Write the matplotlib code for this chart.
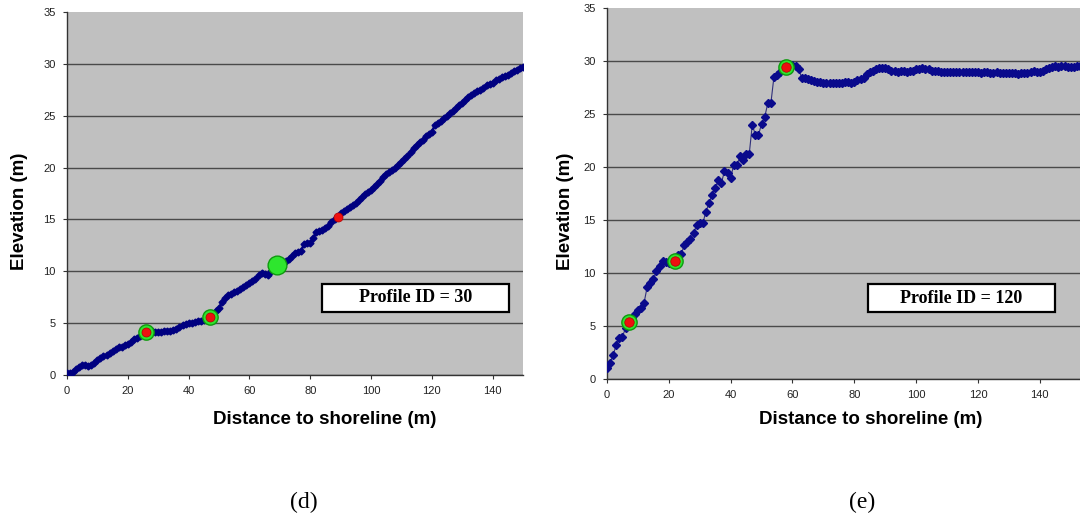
import matplotlib
matplotlib.use('Agg')
import matplotlib.pyplot as plt
import matplotlib.patches as mpatches
import numpy as np

# profile (d), one reading per metre, x = 0..150
dist_d = list(range(0, 151))
elev_d = [
    0.2, 0.2, 0.3, 0.6, 0.8, 1.0, 1.0, 0.9, 1.0, 1.2,
    1.4, 1.6, 1.8, 1.9, 2.1, 2.3, 2.5, 2.7, 2.7, 2.9,
    3.0, 3.2, 3.5, 3.6, 3.8, 4.0, 4.15, 4.2, 4.2, 4.1,
    4.1, 4.1, 4.2, 4.2, 4.2, 4.3, 4.4, 4.6, 4.8, 4.9,
    5.0, 5.0, 5.1, 5.2, 5.2, 5.3, 5.5, 5.6, 5.9, 6.2,
    6.5, 7.0, 7.4, 7.7, 7.8, 8.0, 8.1, 8.3, 8.5, 8.7,
    8.9, 9.1, 9.3, 9.6, 9.8, 9.7, 9.6, 10.0, 10.3, 10.6,
    10.9, 10.9, 11.0, 11.2, 11.5, 11.8, 11.9, 12.0, 12.6, 12.7,
    12.7, 13.2, 13.8, 13.9, 14.0, 14.2, 14.4, 14.8, 15.0, 15.2,
    15.6, 15.8, 16.0, 16.2, 16.4, 16.6, 16.9, 17.2, 17.5, 17.6,
    17.8, 18.1, 18.4, 18.7, 19.1, 19.4, 19.6, 19.8, 20.0, 20.2,
    20.5, 20.8, 21.1, 21.5, 21.9, 22.2, 22.5, 22.7, 23.0, 23.2,
    23.4, 24.1, 24.3, 24.5, 24.8, 25.0, 25.3, 25.5, 25.7, 26.0,
    26.2, 26.5, 26.8, 27.0, 27.2, 27.4, 27.5, 27.7, 28.0, 28.1,
    28.2, 28.4, 28.5, 28.7, 28.8, 28.9, 29.1, 29.3, 29.4, 29.6,
    29.7,
]
# highlighted points on (d)
ring_d_x = [26, 47, 69]
ring_d_y = [4.15, 5.6, 10.6]
ring_d_size = [11, 11, 13.5]
dot_d_x = [26, 47, 89]
dot_d_y = [4.15, 5.6, 15.2]

# profile (e), one reading per metre, x = 0..153
dist_e = list(range(0, 154))
elev_e = [
    1.0, 1.5, 2.3, 3.2, 3.9, 4.0, 4.8, 5.4, 5.75, 6.1,
    6.5, 6.7, 7.2, 8.7, 9.1, 9.4, 10.2, 10.7, 11.1, 11.0,
    10.9, 11.1, 11.2, 11.7, 11.8, 12.6, 12.9, 13.2, 13.8, 14.5,
    14.7, 14.7, 15.8, 16.6, 17.4, 18.0, 18.8, 18.5, 19.6, 19.4,
    19.0, 20.2, 20.2, 21.0, 20.7, 21.2, 21.2, 24.0, 23.0, 23.0,
    24.1, 24.7, 26.0, 26.0, 28.5, 28.7, 29.0, 29.3, 29.45, 29.6,
    29.6, 29.5, 29.2, 28.4, 28.4, 28.3, 28.2, 28.1, 28.0, 28.0,
    27.9, 27.9, 27.9, 27.9, 27.9, 27.9, 27.9, 28.0, 28.0, 27.9,
    28.0, 28.2, 28.3, 28.4, 28.8, 29.0, 29.1, 29.2, 29.3, 29.35,
    29.3, 29.2, 29.1, 29.1, 29.0, 29.1, 29.1, 29.0, 29.1, 29.1,
    29.2, 29.2, 29.3, 29.2, 29.2, 29.1, 29.1, 29.1, 29.0, 29.0,
    29.0, 29.0, 29.0, 29.0, 29.0, 29.0, 29.0, 29.0, 29.0, 29.0,
    29.0, 28.9, 29.0, 29.0, 28.9, 28.9, 29.0, 28.9, 28.9, 28.9,
    28.9, 28.9, 28.9, 28.8, 28.9, 28.9, 28.9, 29.0, 29.1, 29.0,
    29.0, 29.1, 29.2, 29.3, 29.4, 29.5, 29.4, 29.5, 29.5, 29.4,
    29.4, 29.4, 29.5, 29.5,
]
ring_e_x = [7, 22, 58]
ring_e_y = [5.4, 11.15, 29.45]

YTICKS = [0, 5, 10, 15, 20, 25, 30, 35]
XTICKS = [0, 20, 40, 60, 80, 100, 120, 140]

BG = '#c0c0c0'
NAVY = '#000080'
GREEN = '#2ee62e'
GREEN_EDGE = '#0f9a0f'
RED = '#ee1010'

W, H = 1080, 521
fig = plt.figure(figsize=(W / 100, H / 100), dpi=100, facecolor='white')


def px_axes(x0, y0, x1, y1):
    # pixel box (left, top, right, bottom) -> figure fraction
    return [x0 / W, 1 - y1 / H, (x1 - x0) / W, (y1 - y0) / H]


def style_axes(ax, xmax):
    ax.set_facecolor(BG)
    ax.set_xlim(0, xmax)
    ax.set_ylim(0, 35)
    ax.set_xticks(XTICKS)
    ax.set_yticks(YTICKS)
    ax.set_xticklabels([str(t) for t in XTICKS])
    ax.set_yticklabels([str(t) for t in YTICKS])
    for lab in ax.get_xticklabels() + ax.get_yticklabels():
        lab.set_fontfamily('Liberation Sans')
        lab.set_fontsize(8)
        lab.set_color('#222222')
    ax.tick_params(length=3, width=0.8, color='#333333', pad=5)
    ax.yaxis.grid(True, color='#4a4a4a', linewidth=1.0)
    ax.yaxis.get_gridlines()[-1].set_visible(False)
    ax.set_axisbelow(True)
    for s in ('top', 'right'):
        ax.spines[s].set_visible(False)
    for s in ('left', 'bottom'):
        ax.spines[s].set_color('#333333')
        ax.spines[s].set_linewidth(1.0)


def profile_box(ax, x0, y0, x1, y1, label):
    rect = mpatches.Rectangle((x0, y0), x1 - x0, y1 - y0, transform=ax.transAxes,
                              facecolor='white', edgecolor='black', linewidth=1.6,
                              zorder=5)
    ax.add_patch(rect)
    ax.text((x0 + x1) / 2, (y0 + y1) / 2, label, transform=ax.transAxes,
            ha='center', va='center', fontsize=13, fontweight='bold',
            fontfamily='Liberation Serif', zorder=6)


# ---- panel (d)
ax_d = fig.add_axes(px_axes(67, 12, 523, 375))
style_axes(ax_d, 150)
ax_d.plot(dist_d, elev_d, '-', color=NAVY, linewidth=1.8, zorder=3)
ax_d.plot(dist_d, elev_d, 'D', color=NAVY, markersize=3.5, zorder=3)
for x, y, s in zip(ring_d_x, ring_d_y, ring_d_size):
    ax_d.plot([x], [y], 'o', ms=s, color=GREEN, mec=GREEN_EDGE, mew=1.0, zorder=4)
ax_d.plot(dot_d_x, dot_d_y, 'o', ms=6.5, color=RED, mec='#b00000', mew=0.5, zorder=4)
profile_box(ax_d, 0.559, 0.174, 0.969, 0.251, 'Profile ID = 30')

# ---- panel (e)
ax_e = fig.add_axes(px_axes(607, 8, 1080, 379))
style_axes(ax_e, 153)
ax_e.plot(dist_e, elev_e, '-', color='#30307a', linewidth=0.8, zorder=3)
ax_e.plot(dist_e, elev_e, 'D', color='#0a0a8c', markersize=3.6, zorder=3)
ax_e.plot(ring_e_x, ring_e_y, 'o', ms=11, color=GREEN, mec=GREEN_EDGE, mew=1.0, zorder=4)
ax_e.plot(ring_e_x, ring_e_y, 'o', ms=6.8, color=RED, mec='#b00000', mew=0.5, zorder=4)
profile_box(ax_e, 0.552, 0.181, 0.947, 0.255, 'Profile ID = 120')

# axis titles and captions
lab_kw = dict(fontsize=13.5, fontweight='bold', fontfamily='Liberation Sans')
fig.text(20 / W, 1 - 211 / H, 'Elevation (m)', rotation=90, ha='center', va='center', **lab_kw)
fig.text(565 / W, 1 - 211 / H, 'Elevation (m)', rotation=90, ha='center', va='center', **lab_kw)
fig.text(325 / W, 1 - 420 / H, 'Distance to shoreline (m)', ha='center', va='center', **lab_kw)
fig.text(871 / W, 1 - 420 / H, 'Distance to shoreline (m)', ha='center', va='center', **lab_kw)

cap_kw = dict(fontsize=17, fontfamily='Liberation Serif', ha='center', va='center')
fig.text(304 / W, 1 - 502 / H, '(d)', **cap_kw)
fig.text(862 / W, 1 - 502 / H, '(e)', **cap_kw)

fig.savefig('out.png', dpi=100, facecolor='white')
